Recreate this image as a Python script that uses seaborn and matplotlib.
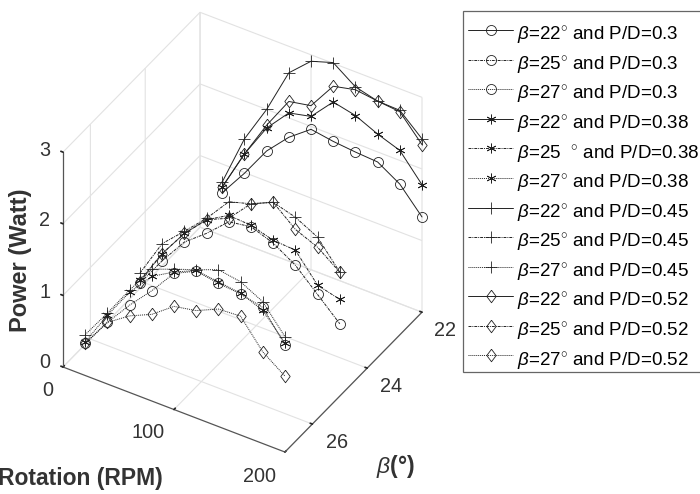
import matplotlib
matplotlib.use("Agg")
import matplotlib.pyplot as plt
import numpy as np
import seaborn as sns
from matplotlib.patches import Rectangle
from mpl_toolkits.mplot3d import proj3d

rpm = [20, 40, 60, 80, 100, 120, 140, 160, 180, 200]

b22_pd30 = [0.60, 0.99, 1.42, 1.73, 1.96, 1.91, 1.88, 1.86, 1.67, 1.33]
b25_pd30 = [0.51, 0.94, 1.32, 1.56, 1.84, 1.89, 1.78, 1.59, 1.30, 1.01]
b27_pd30 = [0.45, 0.86, 1.22, 1.54, 1.90, 2.05, 2.00, 1.97, 1.90, 1.50]
b22_pd38 = [0.68, 1.26, 1.74, 2.07, 2.14, 2.46, 2.39, 2.25, 2.14, 1.78]
b25_pd38 = [0.55, 1.04, 1.44, 1.75, 1.93, 1.91, 1.82, 1.80, 1.43, 1.35]
b27_pd38 = [0.47, 0.96, 1.40, 1.74, 1.92, 2.06, 2.02, 1.98, 1.86, 1.52]
b22_pd45 = [0.75, 1.47, 2.00, 2.63, 2.91, 3.01, 2.79, 2.71, 2.70, 2.42]
b25_pd45 = [0.65, 1.18, 1.47, 1.77, 2.12, 2.21, 2.35, 2.26, 2.10, 1.73]
b27_pd45 = [0.57, 0.99, 1.43, 1.84, 1.96, 2.07, 2.19, 2.14, 1.98, 1.61]
b22_pd52 = [0.68, 1.26, 1.78, 2.23, 2.29, 2.68, 2.75, 2.71, 2.68, 2.34]
b25_pd52 = [0.53, 1.04, 1.44, 1.75, 1.89, 2.21, 2.35, 2.09, 1.96, 1.73]
b27_pd52 = [0.45, 0.86, 1.07, 1.21, 1.44, 1.50, 1.64, 1.66, 1.28, 1.06]

series = [
    (22, "0.3", b22_pd30), (25, "0.3", b25_pd30), (27, "0.3", b27_pd30),
    (22, "0.38", b22_pd38), (25, "0.38", b25_pd38), (27, "0.38", b27_pd38),
    (22, "0.45", b22_pd45), (25, "0.45", b25_pd45), (27, "0.45", b27_pd45),
    (22, "0.52", b22_pd52), (25, "0.52", b25_pd52), (27, "0.52", b27_pd52),
]
diamond = [(0, 1), (0.75, 0), (0, -1), (-0.75, 0), (0, 1)]
markers = {"0.3": "o", "0.38": (6, 2, 0), "0.45": "+", "0.52": diamond}
sizes = {"0.3": 7.2, "0.38": 7, "0.45": 9, "0.52": 9}
styles = {22: "-", 25: (0, (3, 1, 1, 1)), 27: (0, (1, 1))}

x_ticks = [0, 100, 200]
y_ticks = [22, 24, 26]
z_ticks = [0, 1, 2, 3]

sns.set_theme(style="white")
plt.rcParams["font.family"] = ["Liberation Sans", "DejaVu Sans"]
plt.rcParams["mathtext.fontset"] = "custom"
plt.rcParams["mathtext.it"] = "Liberation Sans:italic"
plt.rcParams["mathtext.rm"] = "Liberation Sans"
plt.rcParams["axes3d.grid"] = True

fig = plt.figure(figsize=(7, 4.94), dpi=100)
W, H = fig.get_size_inches() * fig.dpi
ax = fig.add_axes([0.1, 0.1, 0.8, 0.8], projection="3d", proj_type="ortho")
ax.view_init(elev=38.7, azim=-58.5)
ax.set_box_aspect((260, 262, 275))
ax.set_xlim(0, 200)
ax.set_ylim(27, 22)
ax.set_zlim(0, 3)
ax.set_xticks(x_ticks)
ax.set_yticks(y_ticks)
ax.set_zticks(z_ticks)
ax.set_xticklabels([])
ax.set_yticklabels([])
ax.set_zticklabels([])

for axis in (ax.xaxis, ax.yaxis, ax.zaxis):
    axis.set_pane_color((1, 1, 1, 0))
    axis.pane.set_edgecolor("#dddddd")
    axis.line.set_color("#555555")
    axis.line.set_linewidth(0.9)
    axis._axinfo["grid"]["color"] = "#e2e2e2"
    axis._axinfo["grid"]["linewidth"] = 0.8
    axis._axinfo["tick"]["inward_factor"] = 0
    axis._axinfo["tick"]["outward_factor"] = 0.12
    axis._axinfo["tick"]["color"] = "#555555"
ax.zaxis.set_ticks_position("upper")

handles = []
for beta, pd_val, power in series:
    deg = r"$\ \ ^{\circ}$" if (beta == 25 and pd_val == "0.38") else r"$^{\circ}$"
    line, = ax.plot(
        rpm, [beta] * len(rpm), power,
        color="#222222", linewidth=0.7, linestyle=styles[beta],
        marker=markers[pd_val], markersize=sizes[pd_val],
        markerfacecolor="none", markeredgecolor="#222222", markeredgewidth=0.6,
        label=rf"$\beta$={beta}{deg} and P/D={pd_val}",
    )
    handles.append(line)

# move the square 3d axes so the floor corners land where they should
fig.canvas.draw()
cx, cy, _ = proj3d.proj_transform(np.array([0, 200]), np.array([27, 22]), np.array([0, 0]), ax.get_proj())
pts = ax.transData.transform(np.c_[cx, cy])
pos = ax.get_position()
x0, y0, size = pos.x0 * W, pos.y0 * H, pos.width * W
r = (422 - 63) / (pts[1, 0] - pts[0, 0])
new_x0 = 63 - r * (pts[0, 0] - x0)
new_y0 = (H - 367) - r * (pts[0, 1] - y0)
ax.set_position([new_x0 / W, new_y0 / H, size * r / W, size * r / H])

# legend frame sits apart from the rows, it runs off the right edge
fig.add_artist(Rectangle((463 / W, 1 - 372 / H), 250 / W, 361 / H, transform=fig.transFigure,
                         facecolor="white", edgecolor="#666666", linewidth=0.9))
leg = fig.legend(
    handles=handles, loc="upper left", bbox_to_anchor=(468 / W, 1 - 25 / H),
    bbox_transform=fig.transFigure, borderaxespad=0, fontsize=13.5, labelcolor="black",
    frameon=False, borderpad=0, labelspacing=0.39, handlelength=2.4, handletextpad=0.2,
)
# handles sit a little above the text rows
for h in leg.legend_handles:
    h.set_ydata(np.asarray(h.get_ydata()) + 3)


def put_text(px, py, s, **kw):
    fig.text(px / W, 1 - py / H, s, ha="center", va="center", color="#333333", **kw)


for val, px, py in zip(x_ticks, [48, 148, 259], [391, 433, 477]):
    put_text(px, py, str(val), fontsize=14.3)
for val, px, py in zip(y_ticks, [445, 391, 337], [331, 387, 443]):
    put_text(px, py, str(val), fontsize=14.3)
for val, py in zip(z_ticks, [363, 292, 221, 150]):
    put_text(45, py, str(val), fontsize=14.3)

put_text(21, 260, "Power (Watt)", rotation=90, fontsize=17, fontweight="bold")
put_text(80, 478, "Rotation (RPM)", fontsize=16.5, fontweight="bold")
put_text(395, 467, r"$\beta$(°)", fontsize=16.5, fontweight="bold")

fig.savefig("out.png", dpi=100)
